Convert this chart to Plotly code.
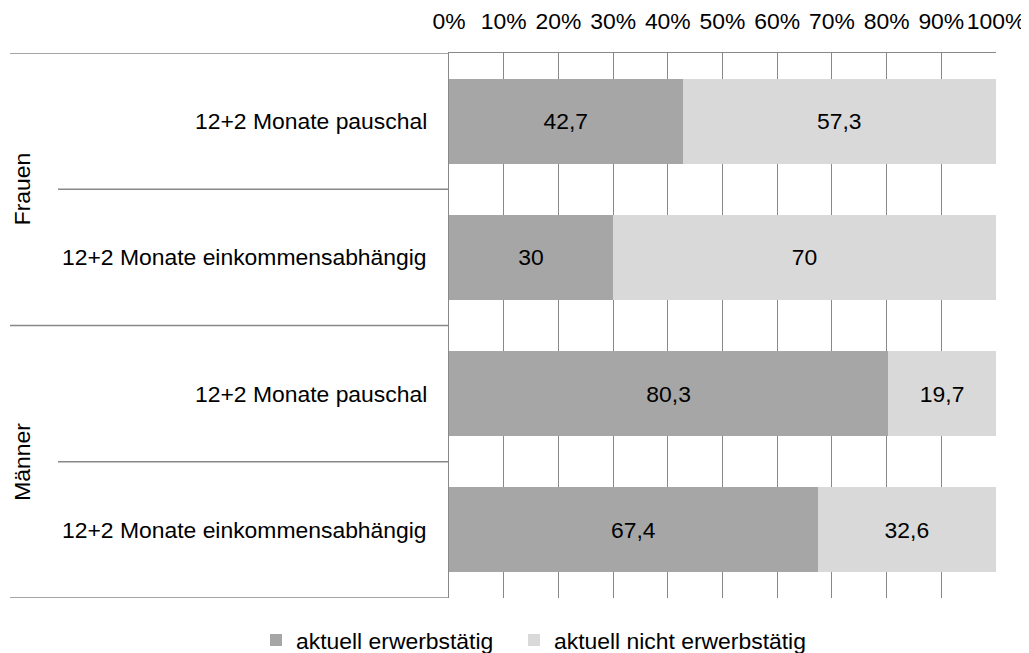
import plotly.graph_objects as go

categories = ["Frauen|pauschal", "Frauen|einkommen", "Männer|pauschal", "Männer|einkommen"]
cat_labels = ["12+2 Monate pauschal", "12+2 Monate einkommensabhängig",
              "12+2 Monate pauschal", "12+2 Monate einkommensabhängig"]
groups = ["Frauen", "Männer"]
erwerbstaetig = [42.7, 30.0, 80.3, 67.4]
nicht_erwerbstaetig = [57.3, 70.0, 19.7, 32.6]
series_names = ["aktuell erwerbstätig", "aktuell nicht erwerbstätig"]
tick_values = [0, 10, 20, 30, 40, 50, 60, 70, 80, 90, 100]
tick_labels = [f"{v}%" for v in tick_values]

def fmt(v):
    s = f"{v:g}"
    return s.replace(".", ",")

FONT = "Liberation Sans, Arial, sans-serif"
FS = 22.9
ypos = list(range(len(categories)))

fig = go.Figure()
for name, vals, col, leg in [(series_names[0], erwerbstaetig, "#A6A6A6", "legend"),
                             (series_names[1], nicht_erwerbstaetig, "#D9D9D9", "legend2")]:
    fig.add_trace(go.Bar(
        x=vals, y=ypos, orientation="h", name=name, legend=leg,
        marker=dict(color=col, line=dict(width=0)),
        width=0.624,
        text=[fmt(v) for v in vals], textposition="inside",
        insidetextanchor="middle",
        textfont=dict(family=FONT, size=FS, color="#000000"),
        hoverinfo="skip",
    ))

# page has an 8px body margin
W, H = 1021, 645
L, T = 441, 45
R = W - 988
B = H - 590
pw = W - L - R

def px2paper(px):
    return (px - L) / pw

shapes = []
for yv, x0 in [(-0.5, 2), (0.5, 50), (1.5, 2), (2.5, 50), (3.5, 2)]:
    shapes.append(dict(type="line", xref="paper", yref="y", x0=px2paper(x0), x1=0,
                       y0=yv, y1=yv, line=dict(color="#888888", width=1.3)))

annotations = []
for i, lab in enumerate(cat_labels):
    annotations.append(dict(text=lab, xref="paper", yref="y", x=0, y=i, xshift=-20,
                            xanchor="right", yanchor="middle", showarrow=False,
                            font=dict(family=FONT, size=FS, color="#000000")))
for gi, g in enumerate(groups):
    annotations.append(dict(text=g, xref="paper", yref="y", x=px2paper(14), y=gi * 2 + 0.5,
                            xanchor="center", yanchor="middle", textangle=-90, showarrow=False,
                            font=dict(family=FONT, size=FS, color="#000000")))

legend_common = dict(orientation="h", xref="container", yref="container",
                     y=0.02, xanchor="left", yanchor="middle",
                     font=dict(family=FONT, size=FS, color="#000000"),
                     itemwidth=30, bgcolor="rgba(0,0,0,0)")

fig.update_layout(
    barmode="stack",
    width=W, height=H,
    margin=dict(l=L, r=R, t=T, b=B, pad=0, autoexpand=False),
    paper_bgcolor="white", plot_bgcolor="white",
    font=dict(family=FONT, size=FS, color="#000000"),
    shapes=shapes, annotations=annotations,
    legend=dict(x=248 / W, **legend_common),
    legend2=dict(x=506 / W, **legend_common),
    xaxis=dict(side="top", range=[0, 100], tickvals=tick_values, ticktext=tick_labels,
               showgrid=True, gridcolor="#888888", gridwidth=1.3,
               showline=True, linecolor="#888888", linewidth=1.3,
               ticks="outside", ticklen=14, tickcolor="rgba(0,0,0,0)",
               zeroline=False, fixedrange=True, automargin=False,
               ticklabeloverflow="allow",
               tickfont=dict(family=FONT, size=FS, color="#000000")),
    yaxis=dict(range=[3.5, -0.5], showticklabels=False, showgrid=False,
               showline=True, linecolor="#888888", linewidth=1.3,
               zeroline=False, ticks="", fixedrange=True, automargin=False),
    showlegend=True,
)

fig.write_html("out.html")
